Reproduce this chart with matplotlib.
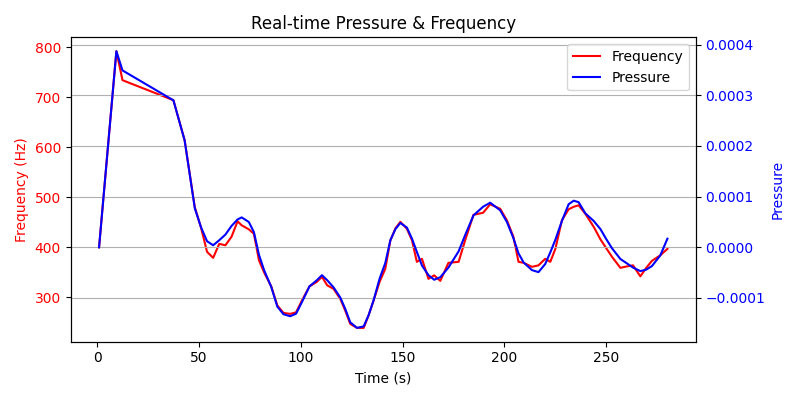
import numpy as np
import matplotlib.pyplot as plt

# samples
time_s = [1, 9.5, 12.5, 37.5, 43, 48, 51, 54, 57, 60, 63, 66, 69, 71, 74.5, 77, 79.5, 82,
          85.5, 88.5, 91.5, 94.8, 97.7, 100.6, 104.3, 107.9, 110.4, 113, 116.1, 119.4,
          121.8, 124.3, 127.6, 130.9, 133.3, 135.8, 138.7, 141.5, 144, 146.5, 148.9,
          152.1, 154.6, 157, 159.5, 162.7, 165.5, 168.5, 172.5, 177.5, 180.7, 184.8,
          189.5, 193, 197.9, 201.2, 204.4, 206.9, 209.4, 213.5, 216.7, 220, 222.5, 225,
          228.2, 231.5, 234, 236.4, 239.7, 243.8, 247.1, 250, 252.8, 256.9, 260.2,
          263.1, 266.7, 269.6, 272.4, 276.5, 280]

freq = [400, 792, 734, 694, 614, 480, 440, 391, 379, 407, 404, 421, 452, 444, 436, 427,
        374, 350, 322, 284, 269, 267, 270, 294, 322, 331, 341, 324, 317, 297, 274, 247,
        239, 239, 264, 294, 331, 357, 414, 438, 451, 437, 414, 371, 377, 337, 344, 333,
        369, 371, 414, 465, 469, 486, 477, 454, 421, 371, 369, 361, 364, 377, 371, 397,
        454, 476, 481, 484, 467, 441, 416, 398, 381, 359, 362, 364, 342, 359, 373, 384,
        397]

pressure = [0, 3.87, 3.49, 2.9, 2.11, 0.77, 0.4, 0.12, 0.04, 0.14, 0.25, 0.42, 0.55, 0.59,
            0.5, 0.3, -0.15, -0.45, -0.78, -1.17, -1.32, -1.36, -1.31, -1.08, -0.77,
            -0.65, -0.55, -0.65, -0.79, -0.99, -1.21, -1.48, -1.59, -1.56, -1.34, -1.04,
            -0.62, -0.31, 0.14, 0.36, 0.48, 0.39, 0.17, -0.09, -0.36, -0.55, -0.64,
            -0.59, -0.4, -0.08, 0.24, 0.63, 0.8, 0.88, 0.73, 0.5, 0.18, -0.12, -0.3,
            -0.45, -0.49, -0.33, -0.1, 0.15, 0.52, 0.85, 0.92, 0.89, 0.67, 0.52, 0.36,
            0.16, -0.02, -0.23, -0.32, -0.4, -0.47, -0.44, -0.37, -0.16, 0.17]
pressure = np.array(pressure) * 1e-4

fig, ax1 = plt.subplots(figsize=(8, 4), dpi=100)
ax2 = ax1.twinx()

l1, = ax1.plot(time_s, freq, color='r', label='Frequency')
l2, = ax2.plot(time_s, pressure, color='b', label='Pressure')

ax1.set_xlabel("Time (s)")
ax1.set_ylabel("Frequency (Hz)", color='r')
ax2.set_ylabel("Pressure", color='b')
ax1.tick_params(axis='y', labelcolor='r')
ax2.tick_params(axis='y', labelcolor='b')
ax2.grid(True)
ax1.set_title("Real-time Pressure & Frequency")
ax2.legend([l1, l2], ['Frequency', 'Pressure'], loc='upper right')

fig.tight_layout()
fig.savefig("out.png")
